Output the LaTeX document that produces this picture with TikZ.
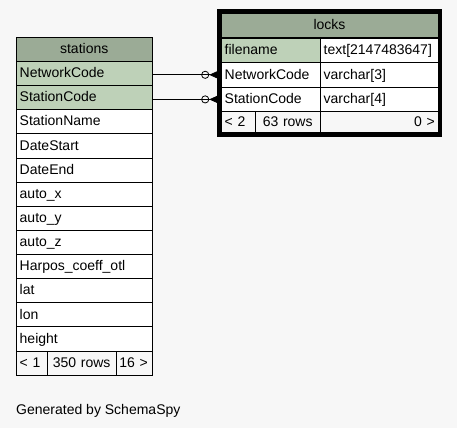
\documentclass[tikz,border=0pt]{standalone}
\usepackage{fontspec}
\setmainfont{Liberation Sans}
\usepackage{tikz}
\usetikzlibrary{positioning, arrows.meta}
\usetikzlibrary{matrix}
\definecolor{bgcol}{HTML}{F7F7F7}
\definecolor{headcol}{HTML}{9BAB96}
\definecolor{keycol}{HTML}{BED1B8}
\tikzset{
    cell/.style={draw, line width=0.8pt, outer sep=0pt, inner xsep=3.5pt, inner ysep=0pt,
        text height=10.5pt, text depth=2pt, fill=white, font=\fontsize{14}{16}\selectfont},
    field/.style={cell, minimum height=24.14pt, text width=#1, align=left},
    head/.style={fill=headcol, align=center},
    key/.style={fill=keycol},
    foot/.style={cell, fill=bgcol, minimum height=#1},
    frame/.style={draw, line width=4pt},
    fk/.style={line width=0.8pt, -{Circle[open, length=8pt, width=8pt, sep=0pt]Triangle[reversed, length=8pt, width=7pt]}}
}

\begin{document}
\begin{tikzpicture}[x=1pt, y=-1pt]
\fill[bgcol] (0,0) rectangle (457,428);
\useasboundingbox (0,0) rectangle (457,428);

\matrix (st) [matrix of nodes, nodes={field=129pt}, inner sep=0pt, row sep=-0.8pt, anchor=north west] at (15.6,36.6)
{
    |[head]| stations \\
    |[key]| NetworkCode \\
    |[key]| StationCode \\
    StationName \\
    DateStart \\
    DateEnd \\
    auto\_x \\
    auto\_y \\
    auto\_z \\
    Harpos\_coeff\_otl \\
    lat \\
    lon \\
    height \\
};
\node[foot=24.14pt, text width=24.3pt, align=left, anchor=north west] (st-f1) at (st-13-1.south west) {< 1};
\node[foot=24.14pt, text width=61.4pt, align=center, anchor=north west] (st-f2) at (st-f1.north east) {350 rows};
\node[foot=24.14pt, text width=29.3pt, align=left, anchor=north west] (st-f3) at (st-f2.north east) {16 >};

\node[cell, head, minimum width=217pt, minimum height=24.4pt, anchor=north west] (lk-head) at (221,13.3) {locks};
\matrix (lk) [matrix of nodes, inner sep=0pt, row sep=-0.8pt, column sep=-0.8pt, anchor=north west,
    column 1/.style={nodes={field=92pt, minimum height=24.6pt}},
    column 2/.style={nodes={field=111pt, minimum height=24.6pt}}] at ([shift={(-0.4pt,0.4pt)}]lk-head.south west)
{
    |[key]| filename & text[2147483647] \\
    NetworkCode & varchar[3] \\
    StationCode & varchar[4] \\
};
\node[foot=21pt, text width=27pt, align=left, anchor=north west] (lk-f1) at (lk-3-1.south west) {< 2};
\node[foot=21pt, text width=58pt, align=center, anchor=north west] (lk-f2) at (lk-f1.north east) {63 rows};
\node[foot=21pt, text width=111pt, align=right, anchor=north west] (lk-f3) at (lk-f2.north east) {0 >};
\draw[frame] ([shift={(-2pt,2pt)}]lk-head.north west) rectangle ([shift={(2pt,-2pt)}]lk-f3.south east);

\draw[fk] (st-2-1.east |- lk-2-1.west) -- ([xshift=-4pt]lk-2-1.west);
\draw[fk] (st-3-1.east |- lk-3-1.west) -- ([xshift=-4pt]lk-3-1.west);

\node[anchor=base west, inner sep=0pt, font=\fontsize{14}{16}\selectfont] (gen) at (16,414) {Generated by SchemaSpy};
\end{tikzpicture}
\end{document}
